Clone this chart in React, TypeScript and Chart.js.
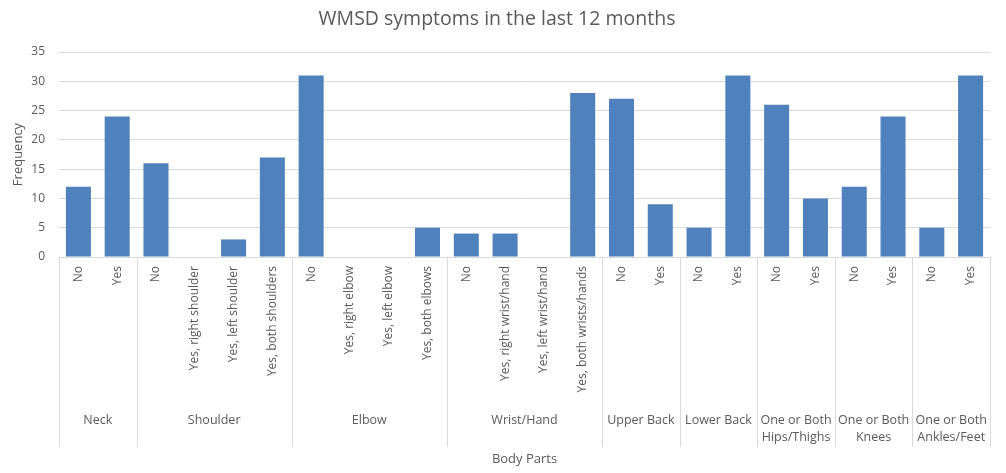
import React, { useEffect, useRef } from "react";
import { Chart, registerables } from "chart.js";

Chart.register(...registerables);

// Body-part groups (outer axis level) and how many answers each one has
const groupLabels: string[][] = [
  ["Neck"],
  ["Shoulder"],
  ["Elbow"],
  ["Wrist/Hand"],
  ["Upper Back"],
  ["Lower Back"],
  ["One or Both", "Hips/Thighs"],
  ["One or Both", "Knees"],
  ["One or Both", "Ankles/Feet"],
];
const groupSizes = [2, 4, 4, 4, 2, 2, 2, 2, 2];

// Answers (inner axis level)
const answerLabels = [
  "No", "Yes",
  "No", "Yes, right shoulder", "Yes, left shoulder", "Yes, both shoulders",
  "No", "Yes, right elbow", "Yes, left elbow", "Yes, both elbows",
  "No", "Yes, right wrist/hand", "Yes, left wrist/hand", "Yes, both wrists/hands",
  "No", "Yes",
  "No", "Yes",
  "No", "Yes",
  "No", "Yes",
  "No", "Yes",
];

// Number of respondents per answer
const frequency = [
  12, 24,
  16, 0, 3, 17,
  31, 0, 0, 5,
  4, 4, 0, 28,
  27, 9,
  5, 31,
  26, 10,
  12, 24,
  5, 31,
];

const yTicks = [0, 5, 10, 15, 20, 25, 30, 35];

const chartTitle = "WMSD symptoms in the last 12 months";
const xTitle = "Body Parts";
const yTitle = "Frequency";

const FONT = "'Open Sans', 'DejaVu Sans', sans-serif";
const TEXT = "#595959";
const LINE = "#D9D9D9";

// Draws the two-level category axis, the axis titles and the chart title
const multiLevelAxis = {
  id: "multiLevelAxis",
  afterDraw(chart: any) {
    const { ctx, chartArea, scales } = chart;
    const x = scales.x;
    const n = answerLabels.length;
    const step = (chartArea.right - chartArea.left) / n;
    const bottom = chartArea.bottom;

    ctx.save();

    // axis line at zero
    ctx.strokeStyle = LINE;
    ctx.lineWidth = 1;
    ctx.beginPath();
    ctx.moveTo(chartArea.left, Math.round(bottom) + 0.5);
    ctx.lineTo(chartArea.right, Math.round(bottom) + 0.5);
    ctx.stroke();

    // group dividers
    let idx = 0;
    const boundaries: number[] = [chartArea.left];
    groupSizes.forEach((s) => {
      idx += s;
      boundaries.push(chartArea.left + idx * step);
    });
    ctx.beginPath();
    boundaries.forEach((bx) => {
      const px = Math.round(bx) + 0.5;
      ctx.moveTo(px, bottom);
      ctx.lineTo(px, bottom + 190);
    });
    ctx.stroke();

    // inner labels, rotated
    ctx.fillStyle = TEXT;
    ctx.font = `12px ${FONT}`;
    ctx.textAlign = "right";
    ctx.textBaseline = "middle";
    answerLabels.forEach((label, i) => {
      const cx = x.getPixelForValue(i);
      ctx.save();
      ctx.translate(cx, bottom + 9);
      ctx.rotate(-Math.PI / 2);
      ctx.fillText(label, 0, 0);
      ctx.restore();
    });

    // outer labels
    ctx.textAlign = "center";
    ctx.font = `12.5px ${FONT}`;
    groupLabels.forEach((lines, g) => {
      const cx = (boundaries[g] + boundaries[g + 1]) / 2;
      lines.forEach((line, k) => {
        ctx.fillText(line, cx, bottom + 163 + k * 17);
      });
    });

    // axis titles
    ctx.font = `13px ${FONT}`;
    ctx.fillText(xTitle, (chartArea.left + chartArea.right) / 2, 459);
    ctx.save();
    ctx.translate(18, (chartArea.top + chartArea.bottom) / 2);
    ctx.rotate(-Math.PI / 2);
    ctx.fillText(yTitle, 0, 0);
    ctx.restore();

    // chart title
    ctx.font = `19.5px ${FONT}`;
    ctx.fillText(chartTitle, 497, 19);

    ctx.restore();
  },
};

export default function App() {
  const canvasRef = useRef<HTMLCanvasElement | null>(null);

  useEffect(() => {
    const canvas = canvasRef.current;
    if (!canvas) return;
    const chart = new Chart(canvas, {
      type: "bar",
      data: {
        labels: answerLabels,
        datasets: [
          {
            label: yTitle,
            data: frequency,
            backgroundColor: "#4F81BD",
            borderWidth: 0,
            barPercentage: 1,
            categoryPercentage: 0.645,
          },
        ],
      },
      options: {
        animation: false,
        responsive: false,
        maintainAspectRatio: false,
        layout: { padding: { top: 52, right: 16, bottom: 216, left: 0 } },
        plugins: {
          legend: { display: false },
          title: { display: false },
          tooltip: { enabled: false },
        },
        scales: {
          x: {
            display: false,
          },
          y: {
            min: 0,
            max: 35,
            afterFit(scale: any) {
              scale.width = 59;
            },
            afterBuildTicks(scale: any) {
              scale.ticks = yTicks.map((v) => ({ value: v }));
            },
            border: { display: false },
            grid: { color: LINE, drawTicks: false, lineWidth: 1 },
            ticks: {
              color: TEXT,
              padding: 14,
              font: { family: FONT, size: 12 },
            },
          },
        },
      },
      plugins: [multiLevelAxis],
    });
    return () => chart.destroy();
  }, []);

  return (
    <div style={{ position: "fixed", left: 0, top: 0, width: 1006, height: 473, background: "#fff" }}>
      <canvas ref={canvasRef} width={1006} height={473} />
    </div>
  );
}
